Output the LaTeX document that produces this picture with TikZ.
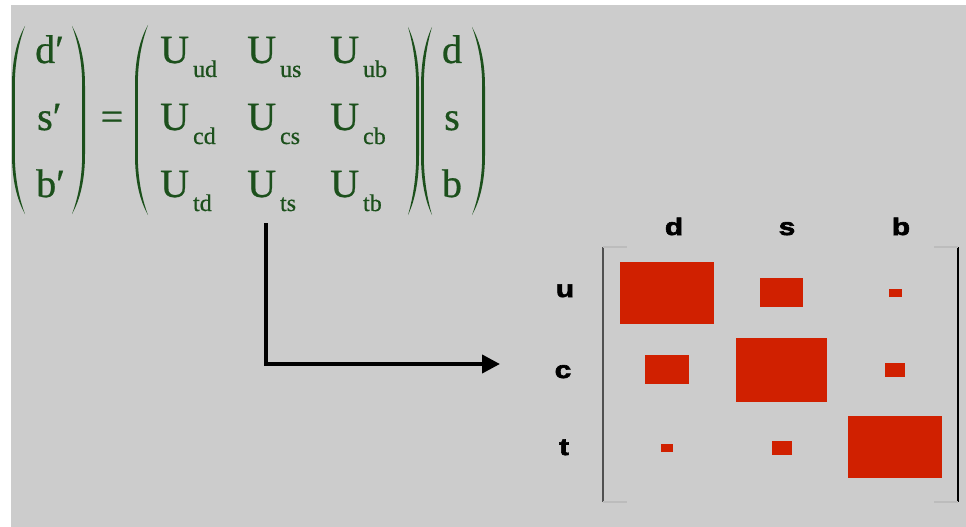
\documentclass[tikz,border=0pt]{standalone}
\usepackage{fontspec}
\setmainfont{Liberation Serif}
\newfontfamily\eqfont[FakeBold=0.7]{Liberation Serif}
\newfontfamily\labelfont[BoldFeatures={FakeBold=2.6,FakeStretch=1.25}]{Liberation Sans}
\usetikzlibrary{arrows.meta}

\definecolor{eqgreen}{RGB}{28,80,28}
\definecolor{panelgrey}{RGB}{204,204,204}
\definecolor{cellred}{RGB}{208,32,0}
\definecolor{brkgrey}{RGB}{80,80,80}
\definecolor{tickgrey}{RGB}{188,188,188}

% tall parentheses: #1 = bulge x, #2 = tip x, #3 = top y, #4 = bottom y
\newcommand\drawLP[4]{%
  \fill[eqgreen] (#2,#3) .. controls ({#1+0.35*(#2-#1)},#3+15) and (#1,#3+35) .. (#1,#3+60)
    -- (#1,#4-60) .. controls (#1,#4-35) and ({#1+0.35*(#2-#1)},#4-15) .. (#2,#4)
    .. controls ({#1+2.8+0.35*(#2-#1)},#4-15) and (#1+2.8,#4-35) .. (#1+2.8,#4-60)
    -- (#1+2.8,#3+60) .. controls (#1+2.8,#3+35) and ({#1+2.8+0.35*(#2-#1)},#3+15) .. (#2,#3)
    -- cycle;}
% #1 = tip x, #2 = bulge x, #3 = top y, #4 = bottom y
\newcommand\drawRP[4]{%
  \fill[eqgreen] (#1,#3) .. controls ({#2-0.35*(#2-#1)},#3+15) and (#2,#3+35) .. (#2,#3+60)
    -- (#2,#4-60) .. controls (#2,#4-35) and ({#2-0.35*(#2-#1)},#4-15) .. (#1,#4)
    .. controls ({#2-2.8-0.35*(#2-#1)},#4-15) and (#2-2.8,#4-35) .. (#2-2.8,#4-60)
    -- (#2-2.8,#3+60) .. controls (#2-2.8,#3+35) and ({#2-2.8-0.35*(#2-#1)},#3+15) .. (#1,#3)
    -- cycle;}
% matrix element U with a lowered index
\newcommand\ckmentry[1]{U\kern4pt\raisebox{-14pt}{\fontsize{24}{24}\selectfont #1}}

\begin{document}
\begin{tikzpicture}[x=1pt,y=-1pt,
  eqtext/.style={inner sep=0pt, anchor=base west, text=eqgreen, font=\eqfont\fontsize{40}{40}\selectfont},
  veqtext/.style={inner sep=0pt, anchor=base, text=eqgreen, font=\eqfont\fontsize{40}{40}\selectfont},
  hdr/.style={inner sep=0pt, anchor=base, font=\labelfont\bfseries\fontsize{24}{24}\selectfont},
  cell/.style={fill=cellred, inner sep=0pt, draw=none},
  link/.style={line width=4pt, line join=miter, -{Triangle[length=18pt,width=18pt]}},
]
\useasboundingbox (0,0) rectangle (966,527);
\fill[white] (0,0) rectangle (966,527);
\fill[panelgrey] (11,5) rectangle (966,527);

% ---- the mixing equation ----
\drawLP{12}{25}{26}{214}
\node[eqtext] (dp) at (35,63)  {d′};
\node[eqtext] (sp) at (37,130) {s′};
\node[eqtext] (bp) at (36,197) {b′};
\drawRP{72}{85}{26}{214}

\node[veqtext] (eq) at (112,130) {=};

\drawLP{135}{148}{25}{215}
\node[eqtext] (uud) at (160,63)  {\ckmentry{ud}};
\node[eqtext] (uus) at (247,63)  {\ckmentry{us}};
\node[eqtext] (uub) at (330,63)  {\ckmentry{ub}};
\node[eqtext] (ucd) at (160,130) {\ckmentry{cd}};
\node[eqtext] (ucs) at (247,130) {\ckmentry{cs}};
\node[eqtext] (ucb) at (330,130) {\ckmentry{cb}};
\node[eqtext] (utd) at (160,197) {\ckmentry{td}};
\node[eqtext] (uts) at (247,197) {\ckmentry{ts}};
\node[eqtext] (utb) at (330,197) {\ckmentry{tb}};
\drawRP{408}{419}{27}{215}

\drawLP{421}{432}{27}{215}
\node[veqtext] (vd) at (452,63)  {d};
\node[veqtext] (vs) at (452,130) {s};
\node[veqtext] (vb) at (452,197) {b};
\drawRP{472}{485}{27}{215}

% ---- connector to the magnitude chart ----
\coordinate (arrtop) at (266,223);
\coordinate (arrtip) at (500,364);
\draw[link] (arrtop) |- (arrtip);

% ---- magnitude chart ----
\node[hdr] (hd) at (674,235) {d};
\node[hdr] (hs) at (787,235) {s};
\node[hdr] (hb) at (901,235) {b};
\node[hdr] (ru) at (565,297) {u};
\node[hdr] (rc) at (563,378) {c};
\node[hdr] (rt) at (564,455) {t};

\draw[brkgrey, line width=2pt] (603,247) -- (603,502);
\draw[black, line width=2pt] (958,247) -- (958,502);
\draw[tickgrey, line width=1.5pt] (603,247) -- (627,247) (603,502) -- (627,502)
  (934,247) -- (958,247) (934,502) -- (958,502);

\node[cell, minimum width=94pt, minimum height=62pt] (cud) at (667,293)   {};
\node[cell, minimum width=43pt, minimum height=29pt] (cus) at (781.5,292.5) {};
\node[cell, minimum width=13pt, minimum height=8pt]  (cub) at (895.5,293) {};
\node[cell, minimum width=44pt, minimum height=29pt] (ccd) at (667,369.5) {};
\node[cell, minimum width=91pt, minimum height=64pt] (ccs) at (781.5,370) {};
\node[cell, minimum width=20pt, minimum height=14pt] (ccb) at (895,370)   {};
\node[cell, minimum width=12pt, minimum height=8pt]  (ctd) at (667,448)   {};
\node[cell, minimum width=20pt, minimum height=14pt] (cts) at (782,448)   {};
\node[cell, minimum width=94pt, minimum height=62pt] (ctb) at (895,447)   {};
\end{tikzpicture}
\end{document}
